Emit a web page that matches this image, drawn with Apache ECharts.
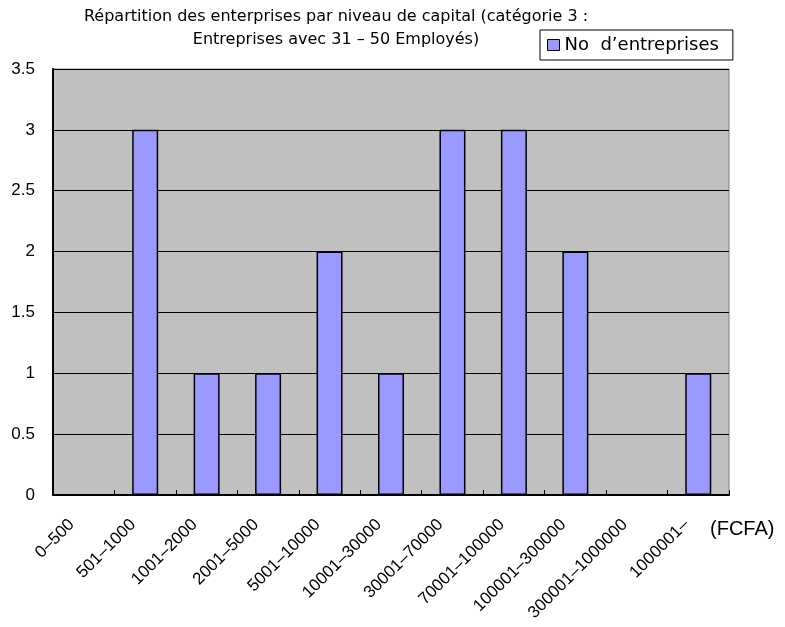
<!DOCTYPE html>
<html>
<head>
<meta charset="utf-8">
<script src="https://cdn.jsdelivr.net/npm/echarts@6/dist/echarts.min.js"></script>
<style>
  html, body { margin: 0; padding: 0; background: #fff; }
  #chart { width: 785px; height: 627px; }
</style>
</head>
<body>
<div id="chart"></div>
<script>
// Capital brackets (FCFA) and number of companies in each
const categories = ['0–500', '501–1000', '1001–2000', '2001–5000', '5001–10000', '10001–30000',
  '30001–70000', '70001–100000', '100001–300000', '300001–1000000', '1000001–'];
const companies = [0, 3, 1, 1, 2, 1, 3, 3, 2, 0, 1];
const seriesName = 'No  d’entreprises';
const yTicks = { min: 0, max: 3.5, interval: 0.5 };

const chart = echarts.init(document.getElementById('chart'));
chart.setOption({
  animation: false,
  backgroundColor: '#ffffff',
  title: {
    text: 'Répartition des enterprises par niveau de capital (catégorie 3 :\nEntreprises avec 31 – 50 Employés)',
    left: 331,
    top: 0,
    textAlign: 'center',
    textStyle: {
      fontFamily: '"DejaVu Sans", sans-serif',
      fontSize: 16,
      fontWeight: 'normal',
      color: '#000',
      lineHeight: 23
    }
  },
  legend: {
    data: [seriesName],
    left: 540,
    top: 30,
    backgroundColor: '#fff',
    borderColor: '#000',
    borderWidth: 1,
    borderRadius: 0,
    padding: [6, 14, 6, 7],
    itemWidth: 12,
    itemHeight: 11,
    itemGap: 5,
    icon: 'rect',
    itemStyle: { borderColor: '#000', borderWidth: 1 },
    textStyle: {
      fontFamily: '"DejaVu Sans", sans-serif',
      fontSize: 18,
      color: '#000'
    }
  },
  grid: {
    left: 53,
    right: 56,
    top: 69,
    bottom: 132,
    show: true,
    backgroundColor: '#C0C0C0',
    borderColor: '#808080',
    borderWidth: 1
  },
  xAxis: {
    type: 'category',
    data: categories,
    axisLine: { lineStyle: { color: '#000', width: 2 } },
    axisTick: { show: true, inside: true, length: 5, alignWithLabel: false, lineStyle: { color: '#000' } },
    axisLabel: {
      rotate: 45,
      interval: 0,
      margin: 15,
      padding: [0, 17, 0, 0],
      fontFamily: 'Liberation Sans, Arial, sans-serif',
      fontSize: 17,
      color: '#000'
    },
    name: '(FCFA)',
    nameLocation: 'end',
    nameGap: 0,
    nameTextStyle: {
      fontFamily: 'Liberation Sans, Arial, sans-serif',
      fontSize: 20,
      color: '#000',
      align: 'left',
      verticalAlign: 'top',
      padding: [24, 0, 0, -19]
    }
  },
  yAxis: {
    type: 'value',
    min: yTicks.min,
    max: yTicks.max,
    interval: yTicks.interval,
    axisLine: { show: true, lineStyle: { color: '#000', width: 2 } },
    axisTick: { show: true, inside: true, length: 4, lineStyle: { color: '#000' } },
    splitLine: { show: true, lineStyle: { color: '#000', width: 1 } },
    axisLabel: {
      margin: 18,
      fontFamily: 'Liberation Sans, Arial, sans-serif',
      fontSize: 17,
      color: '#000'
    }
  },
  series: [{
    name: seriesName,
    type: 'bar',
    data: companies,
    barWidth: 26,
    itemStyle: { color: '#9999FF', borderColor: '#000', borderWidth: 1.5 }
  }]
});
</script>
</body>
</html>
